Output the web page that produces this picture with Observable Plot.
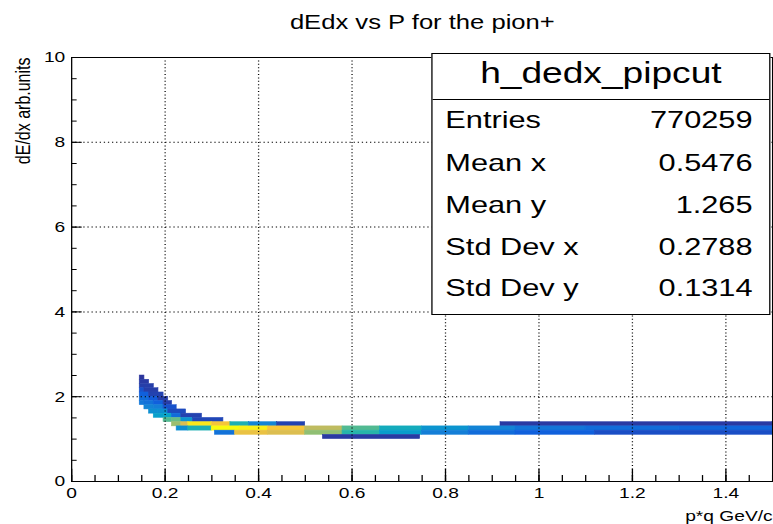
<!DOCTYPE html>
<html><head><meta charset="utf-8">
<script src="https://cdn.jsdelivr.net/npm/d3@7"></script>
<script src="https://cdn.jsdelivr.net/npm/@observablehq/plot@0.6"></script>
<style>
html,body{margin:0;padding:0;background:#fff;overflow:hidden;}
#wrap{position:relative;width:773px;height:524px;overflow:hidden;background:#fff;}
#chart{position:absolute;left:0;top:0;width:604px;height:524px;transform:scaleX(1.27980);transform-origin:0 0;font-family:"Liberation Sans",Arial,sans-serif;color:#000;}
.t{position:absolute;white-space:nowrap;line-height:1;}
#stats{position:absolute;left:337px;top:52.5px;width:265px;height:262px;background:#fff;border:1px solid #000;box-sizing:border-box;}
#stats .sep{position:absolute;left:0;right:0;top:45px;border-top:1px solid #000;}
</style></head><body>
<div id="wrap"><div id="chart"></div></div>
<script>
// ---- data ----
const title = "dEdx vs P for the pion+";
const xLabel = "p*q GeV/c";
const yLabel = "dE/dx arb.units";
const histName = "h_dedx_pipcut";
const statLabels = ["Entries", "Mean x", "Mean y", "Std Dev x", "Std Dev y"];
const statValues = ["770259", "0.5476", "1.265", "0.2788", "0.1314"];

const xMajor = [0, 0.2, 0.4, 0.6, 0.8, 1.0, 1.2, 1.4];
const xMinor = d3.range(0, 1.5001, 0.05);
const xGrid = [0.2, 0.4, 0.6, 0.8, 1.0, 1.2, 1.4];
const yMajor = [0, 2, 4, 6, 8, 10];
const yMinor = d3.range(0, 10.001, 0.5);
const yGrid = [2, 4, 6, 8];

// kBird palette (ROOT)
const birdStops = [0, 0.125, 0.25, 0.375, 0.5, 0.625, 0.75, 0.875, 1];
const birdColors = ["#352a87", "#0f5cdd", "#1481d6", "#06a4ca", "#2eb7a4", "#87bf77", "#d1bb59", "#fec832", "#f9fb0e"];

// 2D histogram rows (dE/dx bin of 0.1); each segment: [p from, p to, relative content]
const yBin = 0.1;
const r24 = [[0.146, 0.156, 0.03]];
const r23 = [[0.146, 0.166, 0.04]];
const r22 = [[0.146, 0.176, 0.05]];
const r21 = [[0.146, 0.156, 0.10], [0.156, 0.186, 0.05]];
const r20 = [[0.146, 0.166, 0.14], [0.166, 0.197, 0.06]];
const r19 = [[0.146, 0.166, 0.18], [0.166, 0.186, 0.12], [0.186, 0.207, 0.05]];
const r18 = [[0.146, 0.156, 0.22], [0.156, 0.176, 0.20], [0.176, 0.197, 0.14], [0.197, 0.215, 0.05]];
const r17 = [[0.156, 0.176, 0.26], [0.176, 0.197, 0.24], [0.197, 0.225, 0.10]];
const r16 = [[0.166, 0.186, 0.30], [0.186, 0.207, 0.30], [0.207, 0.245, 0.08]];
const r15 = [[0.176, 0.197, 0.36], [0.197, 0.215, 0.38], [0.215, 0.235, 0.18], [0.235, 0.279, 0.06]];
const r14 = [[0.197, 0.215, 0.55], [0.215, 0.235, 0.58], [0.235, 0.26, 0.32], [0.26, 0.325, 0.07]];
const r13 = [[0.215, 0.235, 0.66], [0.235, 0.25, 0.78], [0.25, 0.30, 0.95], [0.30, 0.34, 0.85], [0.34, 0.38, 0.45], [0.38, 0.44, 0.26], [0.44, 0.50, 0.06], [0.918, 1.5, 0.04]];
const r12 = [[0.225, 0.25, 0.30], [0.25, 0.30, 0.45], [0.30, 0.36, 1.00], [0.36, 0.42, 0.97], [0.42, 0.50, 0.86], [0.50, 0.58, 0.72], [0.58, 0.66, 0.55], [0.66, 0.75, 0.42], [0.75, 0.85, 0.32], [0.85, 0.95, 0.26], [0.95, 1.10, 0.21], [1.10, 1.30, 0.18], [1.30, 1.5, 0.16]];
const r11 = [[0.307, 0.35, 0.20], [0.35, 0.42, 0.82], [0.42, 0.50, 0.78], [0.50, 0.58, 0.64], [0.58, 0.66, 0.48], [0.66, 0.75, 0.35], [0.75, 0.85, 0.24], [0.85, 0.95, 0.18], [0.95, 1.12, 0.14], [1.12, 1.5, 0.09]];
const r10 = [[0.538, 0.746, 0.04]];
const rows = [[2.4, r24], [2.3, r23], [2.2, r22], [2.1, r21], [2.0, r20], [1.9, r19], [1.8, r18], [1.7, r17], [1.6, r16], [1.5, r15], [1.4, r14], [1.3, r13], [1.2, r12], [1.1, r11], [1.0, r10]];

const cells = rows.flatMap(([v, segs]) => segs.map(([p0, p1, z]) => ({p0, p1, v0: v, v1: v + yBin, z})));

// ---- chart ----
const W = 604, H = 524;
const chart = Plot.plot({
  width: W, height: H,
  marginLeft: 55.5, marginRight: 0.8, marginTop: 57, marginBottom: 43,
  x: {domain: [0, 1.5]},
  y: {domain: [0, 10]},
  color: {type: "linear", domain: birdStops, range: birdColors, interpolate: "rgb"},
  style: {fontFamily: "Liberation Sans, Arial, sans-serif", fontSize: "15px", color: "#000", background: "transparent", overflow: "visible"},
  marks: [
    Plot.rect(cells, {x1: "p0", x2: "p1", y1: "v0", y2: "v1", fill: "z", stroke: "z", strokeWidth: 0.5}),
    Plot.gridX(xGrid, {stroke: "#000", strokeOpacity: 1, strokeWidth: 1, strokeDasharray: "1,2.4"}),
    Plot.gridY(yGrid, {stroke: "#000", strokeOpacity: 1, strokeWidth: 1, strokeDasharray: "1,2.2"}),
    Plot.ruleX(xMinor, {x: d => d, y1: 0, y2: 0.14, stroke: "#000"}),
    Plot.ruleX(xMajor, {x: d => d, y1: 0, y2: 0.29, stroke: "#000"}),
    Plot.ruleY(yMinor, {y: d => d, x1: 0, x2: 0.012, stroke: "#000"}),
    Plot.ruleY(yMajor, {y: d => d, x1: 0, x2: 0.023, stroke: "#000"}),
    Plot.axisX(xMajor, {tickSize: 0, tickPadding: 6, fontSize: 15, label: null, tickFormat: d => String(+d.toFixed(1))}),
    Plot.axisY(yMajor, {tickSize: 0, tickPadding: 5, fontSize: 15, label: null}),
    Plot.frame({stroke: "#000"}),
    Plot.text([xLabel], {frameAnchor: "bottom-right", textAnchor: "end", lineAnchor: "bottom", dy: 39, fontSize: 15}),
    Plot.text([yLabel], {frameAnchor: "top-left", rotate: -90, textAnchor: "end", dx: -44, fontSize: 16})
  ]
});
chart.style.position = "absolute";
chart.style.left = "0px";
chart.style.top = "0px";
const host = document.getElementById("chart");
host.appendChild(chart);

// title
const t = document.createElement("div");
t.className = "t";
t.textContent = title;
t.style.fontSize = "20px";
t.style.left = "330px";
t.style.top = "12px";
t.style.transform = "translateX(-50%)";
host.appendChild(t);

// stats box
const box = document.createElement("div");
box.id = "stats";
const sep = document.createElement("div");
sep.className = "sep";
box.appendChild(sep);
const hn = document.createElement("div");
hn.className = "t";
hn.textContent = histName;
hn.style.fontSize = "29px";
hn.style.left = "0"; hn.style.right = "0"; hn.style.textAlign = "center";
hn.style.top = "5.5px";
box.appendChild(hn);
const baselines = [128, 171.5, 213, 255, 296.5];
statLabels.forEach((lab, i) => {
  const top = baselines[i] - 20.3 - 53.5;
  const a = document.createElement("div");
  a.className = "t"; a.textContent = lab; a.style.fontSize = "24px";
  a.style.left = "10px"; a.style.top = top + "px";
  box.appendChild(a);
  const b = document.createElement("div");
  b.className = "t"; b.textContent = statValues[i]; b.style.fontSize = "24px";
  b.style.right = "13px"; b.style.top = top + "px";
  box.appendChild(b);
});
host.appendChild(box);
</script>
</body></html>
